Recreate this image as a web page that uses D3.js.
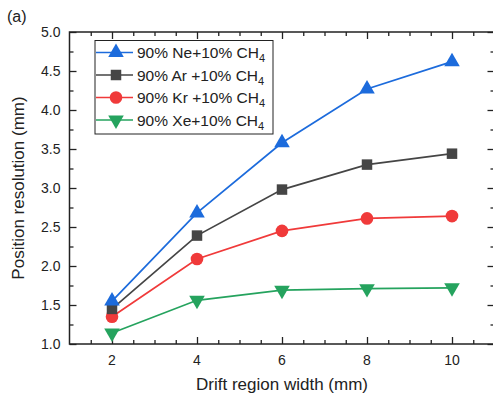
<!DOCTYPE html>
<html>
<head>
<meta charset="utf-8">
<script src="https://cdn.jsdelivr.net/npm/d3@7"></script>
<style>
  html, body { margin: 0; padding: 0; background: #fff; }
  svg { display: block; font-family: "Liberation Sans", Arial, sans-serif; }
</style>
</head>
<body>
<svg id="chart" width="493" height="393"></svg>
<script>
// Drift region widths (mm)
const widths = [2, 4, 6, 8, 10];

// Position resolution (mm) for each gas mixture
const neValues = [1.55, 2.68, 3.58, 4.27, 4.62];
const arValues = [1.45, 2.39, 2.98, 3.30, 3.44];
const krValues = [1.35, 2.09, 2.45, 2.61, 2.64];
const xeValues = [1.14, 1.56, 1.69, 1.71, 1.72];

const seriesNames = ["90% Ne+10% CH", "90% Ar +10% CH", "90% Kr +10% CH", "90% Xe+10% CH"];
const seriesColors = ["#1c6bdc", "#454545", "#f03a3a", "#25a35e"];
const seriesSymbols = ["triangleUp", "square", "circle", "triangleDown"];

const xTicks = [2, 4, 6, 8, 10];
const yTicks = [1.0, 1.5, 2.0, 2.5, 3.0, 3.5, 4.0, 4.5, 5.0];

const series = [neValues, arValues, krValues, xeValues].map((vals, i) => ({
  name: seriesNames[i], color: seriesColors[i], symbol: seriesSymbols[i],
  points: widths.map((w, j) => ({ x: w, y: vals[j] }))
}));

const svg = d3.select("#chart");
const margin = { left: 69.5, right: 494.5, top: 32, bottom: 344 };

const x = d3.scaleLinear().domain([1, 11]).range([margin.left, margin.right]);
const y = d3.scaleLinear().domain([1, 5]).range([margin.bottom, margin.top]);

// Frame axes with inward ticks
const majorLen = 7, minorLen = 4;
const xMinor = d3.range(1.5, 11, 0.5).filter(v => !xTicks.includes(v));
const yMinor = d3.range(1.25, 5, 0.25).filter(v => !yTicks.some(t => Math.abs(t - v) < 1e-9));

function drawAxis(axisGen, transform, ticks, len) {
  const g = svg.append("g").attr("transform", transform)
    .call(axisGen.tickValues(ticks).tickSizeInner(len).tickSizeOuter(0).tickFormat(""));
  g.select(".domain").remove();
  g.selectAll(".tick line").attr("stroke", "#222").attr("stroke-width", 1.3);
  return g;
}
// bottom
drawAxis(d3.axisTop(x), `translate(0,${margin.bottom})`, xTicks, majorLen);
drawAxis(d3.axisTop(x), `translate(0,${margin.bottom})`, xMinor, minorLen);
// top
drawAxis(d3.axisBottom(x), `translate(0,${margin.top})`, xTicks, majorLen);
drawAxis(d3.axisBottom(x), `translate(0,${margin.top})`, xMinor, minorLen);
// left
drawAxis(d3.axisRight(y), `translate(${margin.left},0)`, yTicks, majorLen);
drawAxis(d3.axisRight(y), `translate(${margin.left},0)`, yMinor, minorLen);
// right
drawAxis(d3.axisLeft(y), `translate(${margin.right},0)`, yTicks, majorLen);
drawAxis(d3.axisLeft(y), `translate(${margin.right},0)`, yMinor, minorLen);

// Frame
svg.append("rect")
  .attr("x", margin.left).attr("y", margin.top)
  .attr("width", margin.right - margin.left).attr("height", margin.bottom - margin.top)
  .attr("fill", "none").attr("stroke", "#222").attr("stroke-width", 1.5);

// Tick labels
svg.append("g").selectAll("text").data(xTicks).join("text")
  .attr("x", d => x(d)).attr("y", margin.bottom + 20.5)
  .attr("text-anchor", "middle").attr("font-size", 14).attr("fill", "#222")
  .text(d => d);
svg.append("g").selectAll("text").data(yTicks).join("text")
  .attr("x", margin.left - 9).attr("y", d => y(d) + 5)
  .attr("text-anchor", "end").attr("font-size", 14).attr("fill", "#222")
  .text(d => d.toFixed(1));

// Axis titles
svg.append("text")
  .attr("x", 282).attr("y", 390)
  .attr("text-anchor", "middle").attr("font-size", 17).attr("fill", "#222")
  .text("Drift region width (mm)");
svg.append("text")
  .attr("transform", `translate(24,${(margin.top + margin.bottom) / 2}) rotate(-90)`)
  .attr("text-anchor", "middle").attr("font-size", 17).attr("fill", "#222")
  .text("Position resolution (mm)");

// Panel label
svg.append("text").attr("x", 7).attr("y", 22)
  .attr("font-size", 16).attr("fill", "#222").text("(a)");

// Marker shapes
const symbolMap = {
  triangleUp: d3.symbol().type(d3.symbolTriangle).size(105),
  square: d3.symbol().type(d3.symbolSquare).size(110),
  circle: d3.symbol().type(d3.symbolCircle).size(125),
  triangleDown: d3.symbol().type(d3.symbolTriangle).size(105)
};
function markerPath(sym) { return symbolMap[sym](); }
function markerTransform(sym, px, py) {
  return sym === "triangleDown" ? `translate(${px},${py}) rotate(180)` : `translate(${px},${py})`;
}

const line = d3.line().x(d => x(d.x)).y(d => y(d.y));

// Lines then markers; draw last series first so Ne sits on top
[...series].reverse().forEach(s => {
  const g = svg.append("g");
  g.append("path").datum(s.points)
    .attr("d", line).attr("fill", "none")
    .attr("stroke", s.color).attr("stroke-width", 1.7);
  g.selectAll("path.m").data(s.points).join("path").attr("class", "m")
    .attr("d", markerPath(s.symbol))
    .attr("transform", d => markerTransform(s.symbol, x(d.x), y(d.y)))
    .attr("fill", s.color);
});

// Legend
const legX = 95, legY = 40.5, legW = 178, legH = 93.5;
const legend = svg.append("g");
legend.append("rect").attr("x", legX).attr("y", legY).attr("width", legW).attr("height", legH)
  .attr("fill", "#fff").attr("stroke", "#222").attr("stroke-width", 1);
const rowY = [52.5, 75, 97.5, 120];
series.forEach((s, i) => {
  const ry = rowY[i];
  legend.append("line").attr("x1", legX + 1).attr("x2", 133).attr("y1", ry).attr("y2", ry)
    .attr("stroke", s.color).attr("stroke-width", 1.7);
  legend.append("path").attr("d", markerPath(s.symbol))
    .attr("transform", markerTransform(s.symbol, 116, ry)).attr("fill", s.color);
  const t = legend.append("text").attr("x", 137).attr("y", ry + 5.5)
    .attr("font-size", 15.5).attr("fill", "#222");
  t.append("tspan").text(s.name);
  t.append("tspan").attr("font-size", 11).attr("dy", 4).text("4");
});
</script>
</body>
</html>
